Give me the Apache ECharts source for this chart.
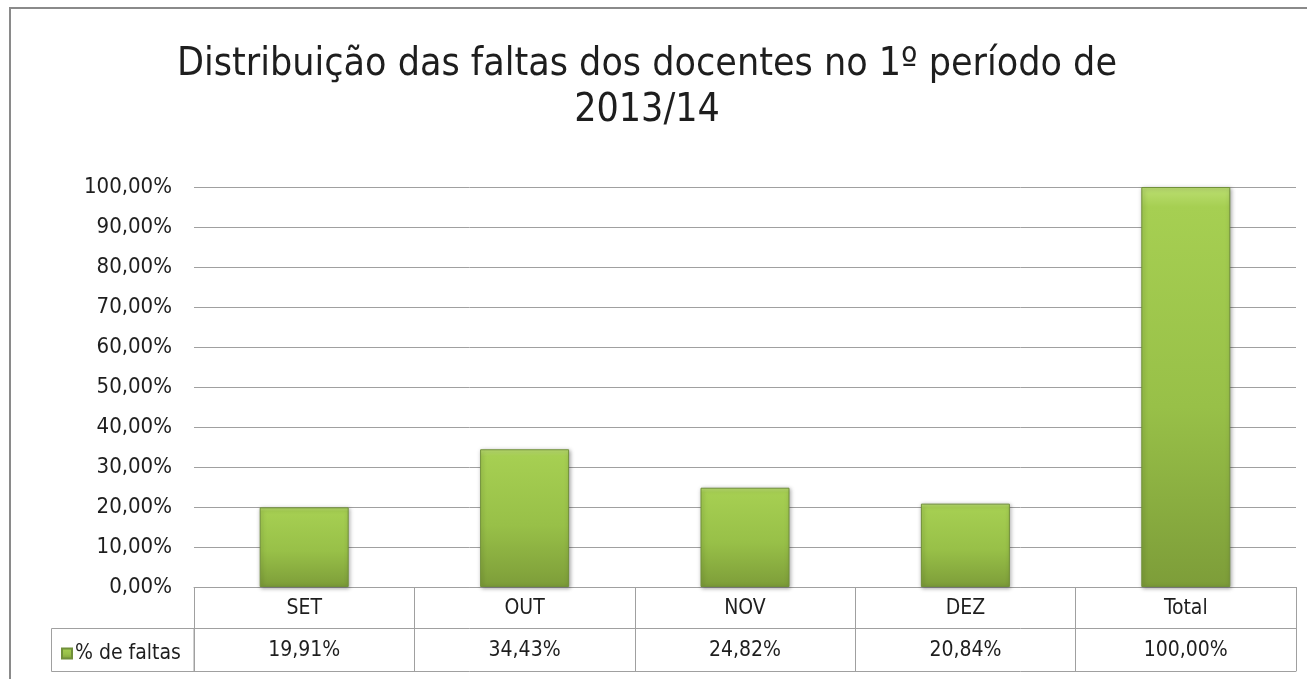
<!DOCTYPE html>
<html>
<head>
<meta charset="utf-8">
<script src="https://cdn.jsdelivr.net/npm/echarts@6/dist/echarts.min.js"></script>
<style>
  html, body { margin: 0; padding: 0; background: #fff; }
  #chart { width: 1307px; height: 679px; }
</style>
</head>
<body>
<div id="chart"></div>
<script>
const categories = ['SET', 'OUT', 'NOV', 'DEZ', 'Total'];
const faltas = [19.91, 34.43, 24.82, 20.84, 100.0];
const seriesName = '% de faltas';
const titleText = 'Distribuição das faltas dos docentes no 1º período de\n2013/14';

const FONT = "'Liberation Sans Narrow', 'DejaVu Sans Condensed', Roboto, sans-serif";
const LINE = '#a0a0a0';
const TEXT = '#1e1e1e';

const pct = (v) => v.toFixed(2).replace('.', ',') + '%';

const chart = echarts.init(document.getElementById('chart'));

const barFill = new echarts.graphic.LinearGradient(0, 0, 0, 1, [
  { offset: 0, color: '#bcdf72' },
  { offset: 0.05, color: '#a6cf52' },
  { offset: 0.55, color: '#98c048' },
  { offset: 1, color: '#7d9d39' }
]);

chart.setOption({
  animation: false,
  backgroundColor: '#fff',
  textStyle: { fontFamily: FONT },
  title: {
    text: titleText,
    left: 642,
    textAlign: 'center',
    top: 37,
    textStyle: {
      fontFamily: FONT,
      fontSize: 39,
      fontWeight: 'normal',
      lineHeight: 46,
      color: TEXT
    }
  },
  legend: {
    data: [seriesName],
    left: 56,
    top: 638,
    icon: 'rect',
    itemWidth: 10,
    itemHeight: 10,
    itemGap: 4,
    selectedMode: false,
    textStyle: { fontSize: 21, color: TEXT, padding: [0, 0, 0, -2] }
  },
  grid: { left: 194, right: 11, top: 187, bottom: 92 },
  xAxis: [
    {
      type: 'category',
      data: categories,
      position: 'bottom',
      axisLine: { lineStyle: { color: LINE, width: 1 } },
      axisTick: { show: true, length: 84, alignWithLabel: false, lineStyle: { color: LINE } },
      axisLabel: { fontSize: 21, color: TEXT, margin: 11 }
    },
    {
      type: 'category',
      data: categories,
      position: 'bottom',
      offset: 41,
      axisLine: { lineStyle: { color: LINE, width: 1 } },
      axisTick: { show: false },
      axisLabel: {
        fontSize: 21,
        color: TEXT,
        margin: 12,
        formatter: (v, i) => pct(faltas[i])
      }
    },
    {
      type: 'category',
      data: categories,
      position: 'bottom',
      offset: 84,
      axisLine: { lineStyle: { color: LINE, width: 1 } },
      axisTick: { show: false },
      axisLabel: { show: false }
    }
  ],
  yAxis: {
    type: 'value',
    min: 0,
    max: 100,
    interval: 10,
    axisLine: { show: false },
    axisTick: { show: false },
    axisLabel: { fontSize: 22, color: TEXT, margin: 22, formatter: (v) => pct(v) },
    splitLine: { lineStyle: { color: LINE, width: 1 } }
  },
  series: [
    {
      name: seriesName,
      type: 'bar',
      xAxisIndex: 0,
      data: faltas,
      barWidth: 89,
      itemStyle: {
        color: barFill,
        borderColor: '#71903a',
        borderWidth: 1,
        shadowColor: 'rgba(0,0,0,0.35)',
        shadowBlur: 4,
        shadowOffsetX: 1,
        shadowOffsetY: 1
      }
    }
  ],
  graphic: [
    {
      type: 'rect',
      shape: { x: 10, y: 8, width: 1400, height: 800 },
      style: { fill: 'none', stroke: '#8a8a8a', lineWidth: 2 },
      silent: true
    },
    {
      type: 'rect',
      shape: { x: 51.5, y: 628.5, width: 142.5, height: 43 },
      style: { fill: 'none', stroke: LINE, lineWidth: 1 },
      silent: true
    }
  ]
});
</script>
</body>
</html>
